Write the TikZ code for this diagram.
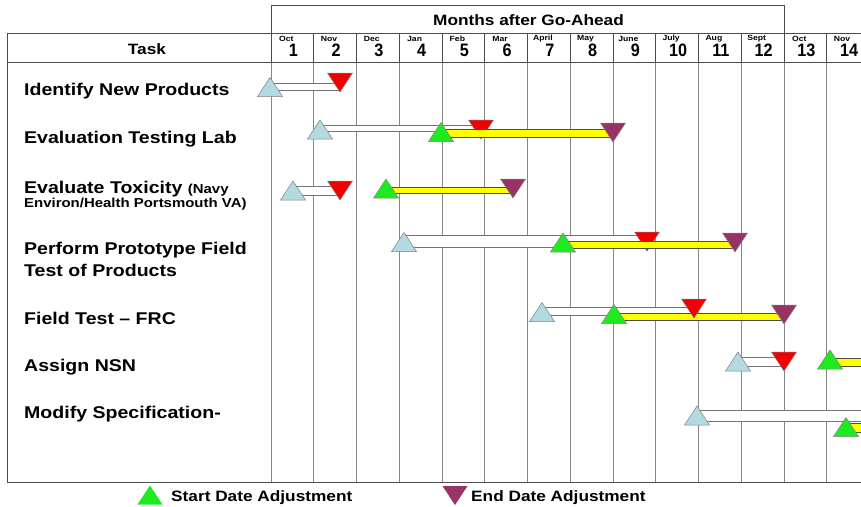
\documentclass[tikz,border=0pt]{standalone}
\usepackage{fontspec}
\setmainfont{Liberation Sans}[FakeStretch=1.15]
\newfontfamily\digfont{Liberation Sans}[FakeStretch=0.9]
\usetikzlibrary{calc}
\definecolor{lb}{RGB}{178,218,224}
\definecolor{rd}{RGB}{240,0,0}
\definecolor{gr}{RGB}{30,235,30}
\definecolor{pu}{RGB}{153,51,102}
\definecolor{barY}{RGB}{255,255,0}
\definecolor{gridc}{RGB}{135,135,135}
\begin{document}
\begin{tikzpicture}[x=1pt,y=-1pt,
  gridline/.style={draw=gridc, line width=1pt},
  frame/.style={draw=black!70, line width=1pt},
  wbar/.style={fill=white, draw=black!55, line width=0.6pt},
  ybar/.style={fill=barY, draw=black!70, line width=0.6pt},
  tri/.style={line width=0.5pt, draw=black!50},
  uptri/.pic={\path[tri,pic actions] (-12.5,9.5) -- (12.5,9.5) -- (0,-9.5) -- cycle;},
  dntri/.pic={\path[tri,pic actions] (-12.5,-9.5) -- (12.5,-9.5) -- (0,9.5) -- cycle;},
  task/.style={anchor=base west, inner sep=0pt, font=\bfseries\fontsize{17}{20}\selectfont},
  small/.style={anchor=base west, inner sep=0pt, font=\bfseries\fontsize{13}{15}\selectfont},
  head/.style={inner sep=0pt, font=\bfseries\fontsize{15}{18}\selectfont},
  mname/.style={inner sep=0pt, font=\bfseries\fontsize{7.5}{8}\selectfont},
  mnum/.style={inner sep=0pt, font=\digfont\bfseries\fontsize{18}{20}\selectfont},
]
\useasboundingbox (0,0) rectangle (861,506);
\clip (0,0) rectangle (861,506);

% grid
\foreach \i in {0,...,13} {
  \draw[gridline] ({271+42.75*\i},62) -- ({271+42.75*\i},482);
  \draw[frame] ({271+42.75*\i},33) -- ({271+42.75*\i},62);
}
\draw[frame] (271,33) -- (271,5) -- (784,5) -- (784,33);
\draw[frame] (7,33) -- (861,33);
\draw[frame] (7,62) -- (861,62);
\draw[frame] (7,33) -- (7,482) -- (861,482);

% header texts
\node[head] (months) at (528.5,20) {Months after Go-Ahead};
\node[head] (taskh) at (147,49) {Task};
\foreach \m [count=\i] in {Oct,Nov,Dec,Jan,Feb,Mar,April,May,June,July,Aug,Sept,Oct,Nov} {
  \node[mname] (m\i) at ({271+42.75*(\i-0.5)-6},39) {\m};
  \node[mnum] (n\i) at ({271+42.75*(\i-0.5)+1},50) {\i};
}

% task labels
\node[task] (t1) at (24,95) {Identify New Products};
\node[task] (t2) at (24,143) {Evaluation Testing Lab};
\node[task] (t3) at (24,193) {Evaluate Toxicity \fontsize{13}{15}\selectfont(Navy};
\node[small] (t3b) at (24,207) {Environ/Health Portsmouth VA)};
\node[task] (t4) at (24,254) {Perform Prototype Field};
\node[task] (t4b) at (24,276) {Test of Products};
\node[task] (t5) at (24,324) {Field Test -- FRC};
\node[task] (t6) at (24,371) {Assign NSN};
\node[task] (t7) at (24,418) {Modify Specification-};

% milestone coordinates
\coordinate (r1s) at (270,87);   \coordinate (r1e) at (340,82.5);
\coordinate (r2s) at (320,129.5);\coordinate (r2e) at (481,129.5);
\coordinate (r2g) at (441,132);  \coordinate (r2p) at (613,132.5);
\coordinate (r3s) at (293,190.5);\coordinate (r3e) at (340,190.5);
\coordinate (r3g) at (386,188.5);\coordinate (r3p) at (513,188.5);
\coordinate (r4s) at (404,242);  \coordinate (r4e) at (647,241.5);
\coordinate (r4g) at (563,242.5);\coordinate (r4p) at (735,242.5);
\coordinate (r5s) at (542,312);  \coordinate (r5e) at (694,308.5);
\coordinate (r5g) at (614,314);  \coordinate (r5p) at (784,314.5);
\coordinate (r6s) at (738,361.5);\coordinate (r6e) at (784,361.5);
\coordinate (r6g) at (830,359.5);\coordinate (r6x) at (875,359.5);
\coordinate (r7s) at (697,415.5);\coordinate (r7x) at (875,415.5);
\coordinate (r7g) at (846,427);  \coordinate (r7y) at (875,427);

% row 1
\path[wbar] ($(r1s)+(0,-3.5)$) rectangle ($(r1e|-r1s)+(0,3.5)$);
\pic[fill=lb] at (r1s) {uptri};
\pic[fill=rd] at (r1e) {dntri};
% row 2
\path[wbar] ($(r2s)+(0,-4.5)$) rectangle ($(r2e|-r2s)+(0,1.5)$);
\pic[fill=lb] at (r2s) {uptri};
\pic[fill=rd] at (r2e) {dntri};
\path[ybar] ($(r2g)+(0,-3)$) rectangle ($(r2p|-r2g)+(0,5)$);
\pic[fill=gr] at (r2g) {uptri};
\pic[fill=pu] at (r2p) {dntri};
% row 3
\path[wbar] ($(r3s)+(0,-4.5)$) rectangle ($(r3e|-r3s)+(0,4.5)$);
\pic[fill=lb] at (r3s) {uptri};
\pic[fill=rd] at (r3e) {dntri};
\path[ybar] ($(r3g)+(0,-1.5)$) rectangle ($(r3p|-r3g)+(0,5)$);
\pic[fill=gr] at (r3g) {uptri};
\pic[fill=pu] at (r3p) {dntri};
% row 4
\path[wbar] ($(r4s)+(0,-7)$) rectangle ($(r4e|-r4s)+(0,5)$);
\pic[fill=lb] at (r4s) {uptri};
\pic[fill=rd] at (r4e) {dntri};
\path[ybar] ($(r4g)+(0,-1.5)$) rectangle ($(r4p|-r4g)+(0,5.5)$);
\pic[fill=gr] at (r4g) {uptri};
\pic[fill=pu] at (r4p) {dntri};
% row 5
\path[wbar] ($(r5s)+(0,-5)$) rectangle ($(r5e|-r5s)+(0,3)$);
\pic[fill=lb] at (r5s) {uptri};
\path[ybar] ($(r5g)+(0,-1)$) rectangle ($(r5p|-r5g)+(0,6)$);
\pic[fill=rd] at (r5e) {dntri};
\pic[fill=gr] at (r5g) {uptri};
\pic[fill=pu] at (r5p) {dntri};
% row 6
\path[wbar] ($(r6s)+(0,-4.5)$) rectangle ($(r6e|-r6s)+(0,5)$);
\pic[fill=lb] at (r6s) {uptri};
\pic[fill=rd] at (r6e) {dntri};
\path[ybar] ($(r6g)+(0,-1.5)$) rectangle ($(r6x)+(0,7)$);
\pic[fill=gr] at (r6g) {uptri};
% row 7
\path[wbar] ($(r7s)+(0,-5)$) rectangle ($(r7x)+(0,6)$);
\pic[fill=lb] at (r7s) {uptri};
\path[ybar] ($(r7g)+(0,-4)$) rectangle ($(r7y)+(0,5)$);
\pic[fill=gr] at (r7g) {uptri};

% legend
\coordinate (lg) at (150,495);
\coordinate (lp) at (455,495.5);
\pic[fill=gr, draw=none] at (lg) {uptri};
\node[head, anchor=base west] (lgt) at (171,501) {Start Date Adjustment};
\pic[fill=pu, draw=none] at (lp) {dntri};
\node[head, anchor=base west] (lpt) at (471,501) {End Date Adjustment};
\end{tikzpicture}
\end{document}
